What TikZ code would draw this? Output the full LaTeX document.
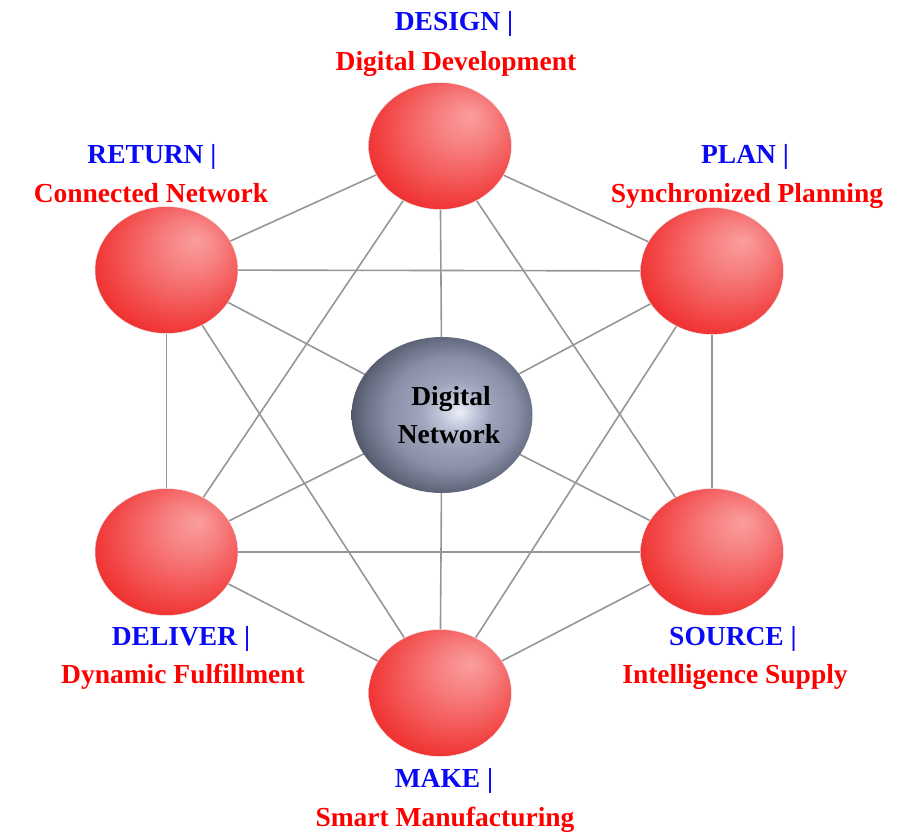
\documentclass[tikz,border=0pt]{standalone}
\usepackage{fontspec}
\setmainfont{Liberation Serif}
\usetikzlibrary{shapes.geometric,backgrounds}

% soft red ball, light from the upper right (ball rim sits at about 25bp)
\pgfdeclareradialshading{redball}{\pgfpoint{11bp}{12bp}}{%
  color(0bp)=(rgb,255:red,250;green,158;blue,158);
  color(10bp)=(rgb,255:red,247;green,127;blue,127);
  color(20bp)=(rgb,255:red,244;green,90;blue,90);
  color(30bp)=(rgb,255:red,240;green,52;blue,52);
  color(40bp)=(rgb,255:red,236;green,22;blue,22);
  color(50bp)=(rgb,255:red,232;green,10;blue,10)}

% steel-blue hub ball, lit just right of its middle
\pgfdeclareradialshading{hubball}{\pgfpoint{5bp}{1bp}}{%
  color(0bp)=(rgb,255:red,236;green,239;blue,248);
  color(5bp)=(rgb,255:red,192;green,198;blue,217);
  color(10bp)=(rgb,255:red,157;green,164;blue,187);
  color(18bp)=(rgb,255:red,136;green,143;blue,166);
  color(24bp)=(rgb,255:red,102;green,108;blue,128);
  color(30bp)=(rgb,255:red,62;green,66;blue,82);
  color(40bp)=(rgb,255:red,45;green,48;blue,60)}

\definecolor{linkgray}{RGB}{150,150,150}
\definecolor{stageblue}{RGB}{10,10,245}
\definecolor{stagered}{RGB}{255,0,0}

\tikzset{
  ball/.style={ellipse, inner sep=0pt, minimum width=143pt, minimum height=127pt,
    shading=redball, draw=white!85!gray, line width=0.5pt},
  hub/.style={ellipse, inner sep=0pt, minimum width=181pt, minimum height=156pt,
    shading=hubball},
  link/.style={draw=linkgray, line width=1.6pt},
  lbl/.style={anchor=base, inner sep=0pt, font=\fontsize{27.5}{33}\selectfont\bfseries},
  stage/.style={lbl, text=stageblue},
  theme/.style={lbl, text=stagered},
  hubtext/.style={lbl, text=black}
}

\begin{document}
\begin{tikzpicture}[x=1pt,y=-1pt]
\useasboundingbox (0,0) rectangle (908,833);

% the seven balls
\node[ball] (design)  at (440,146) {};
\node[ball] (return)  at (166.5,270) {};
\node[ball] (plan)    at (712,271) {};
\node[ball] (deliver) at (166.5,552) {};
\node[ball] (source)  at (712,552) {};
\node[ball] (make)    at (440,693) {};
\node[hub]  (hub)     at (442,415) {};

% the ring and its chords; the three long diagonals run through the hub
\begin{scope}[on background layer]
  \foreach \a/\b in {design/return, design/plan, design/deliver, design/source,
                     return/plan, return/deliver, return/make,
                     plan/source, plan/make,
                     deliver/source, deliver/make,
                     source/make}
    \draw[link] (\a.center) -- (\b.center);
  \foreach \a in {design, return, plan, deliver, source, make}
    \draw[link] (\a.center) -- (hub.center);
\end{scope}

% hub caption
\node[hubtext] (hubA) at (451,405) {Digital};
\node[hubtext] (hubB) at (449,443) {Network};

% stage captions
\node[stage] (designA)  at (454,30)  {DESIGN |};
\node[theme] (designB)  at (456,70)  {Digital Development};
\node[stage] (returnA)  at (152,163) {RETURN |};
\node[theme] (returnB)  at (151,202) {Connected Network};
\node[stage] (planA)    at (745,163) {PLAN |};
\node[theme] (planB)    at (747,202) {Synchronized Planning};
\node[stage] (deliverA) at (181,645) {DELIVER |};
\node[theme] (deliverB) at (183,683) {Dynamic Fulfillment};
\node[stage] (sourceA)  at (733,645) {SOURCE |};
\node[theme] (sourceB)  at (735,683) {Intelligence Supply};
\node[stage] (makeA)    at (444,787) {MAKE |};
\node[theme] (makeB)    at (445,826) {Smart Manufacturing};
\end{tikzpicture}
\end{document}
